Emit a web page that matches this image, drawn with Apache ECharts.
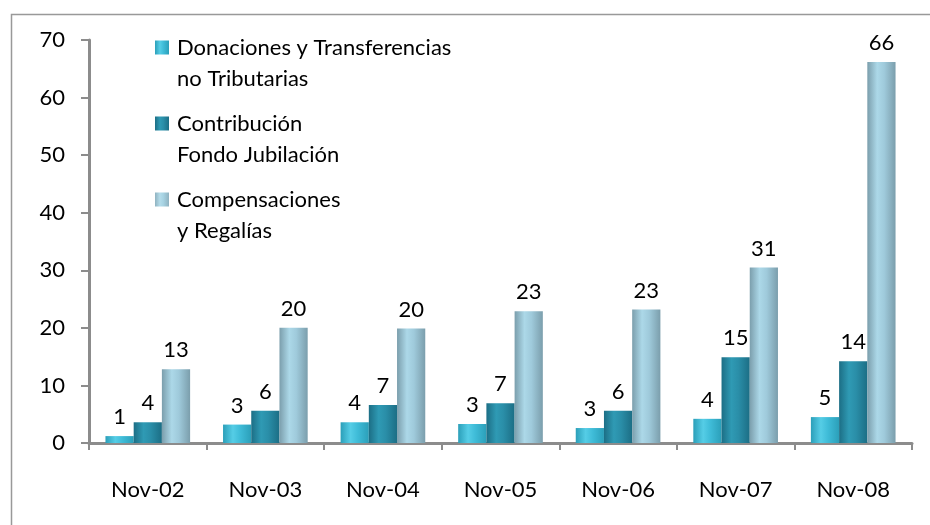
<!DOCTYPE html>
<html>
<head>
<meta charset="utf-8">
<script src="https://cdn.jsdelivr.net/npm/echarts@6/dist/echarts.min.js"></script>
<style>
html,body{margin:0;padding:0;background:#fff;}
#c{width:930px;height:525px;}
</style>
</head>
<body>
<div id="c"></div>
<script>
const categories = ['Nov-02','Nov-03','Nov-04','Nov-05','Nov-06','Nov-07','Nov-08'];
const donaciones = [1.2, 3.2, 3.6, 3.3, 2.6, 4.2, 4.5];
const contribucion = [3.6, 5.6, 6.6, 6.9, 5.6, 14.9, 14.2];
const compensaciones = [12.8, 20.0, 19.9, 22.9, 23.2, 30.5, 66.2];
const seriesNames = ['Donaciones y Transferencias\nno Tributarias', 'Contribución\nFondo Jubilación', 'Compensaciones\ny Regalías'];
const yTicks = {min: 0, max: 70, interval: 10};

const FONT = 'Lato';
function grad(edge, mid, light){
  return new echarts.graphic.LinearGradient(0,0,1,0,[
    {offset:0, color: edge},
    {offset:0.35, color: light},
    {offset:0.6, color: mid},
    {offset:1, color: edge}
  ]);
}
const colors = [
  grad('#2b9fb9', '#3fbcd8', '#55cde6'),
  grad('#1c6e85', '#2a8ea8', '#2f9ab4'),
  grad('#7b9eac', '#9fcadb', '#acd8e8')
];
const legendColors = [
  grad('#2b9fb9', '#3fbcd8', '#55cde6'),
  grad('#1c6e85', '#2a8ea8', '#2f9ab4'),
  grad('#8fb2c0', '#a6d2e2', '#b4dcea')
];
const legendIcon = 'path://M0,0L14,0L14,14L0,14Z M0,45L0.001,45L0.001,45.001Z';

function mkSeries(i, data){
  return {
    name: seriesNames[i],
    type: 'bar',
    data: data,
    barGap: '0%',
    barCategoryGap: '28%',
    itemStyle: {color: colors[i]},
    label: {
      show: true, position: 'top', distance: 8,
      fontFamily: FONT, fontSize: 22, color: '#000',
      formatter: p => String(Math.round(p.value))
    }
  };
}

const chart = echarts.init(document.getElementById('c'), null, {renderer:'canvas'});
chart.setOption({
  animation: false,
  graphic: [{
    type: 'rect', left: 9, top: 12, silent: true,
    shape: {x: 0, y: 0, width: 940, height: 540},
    style: {fill: 'none', stroke: '#999999', lineWidth: 1.5}
  }],
  grid: {left: 89, right: 18, top: 40, bottom: 82, containLabel: false},
  legend: {
    orient: 'vertical', left: 150, top: 27,
    itemWidth: 14, itemHeight: 45, itemGap: 14,
    icon: legendIcon,
    textStyle: {fontFamily: FONT, fontSize: 22, color: '#000', lineHeight: 31, padding: [0,0,0,3]},
    data: seriesNames.map((n,i)=>({name:n, itemStyle:{color: legendColors[i], borderWidth: 0}}))
  },
  xAxis: {
    type: 'category', data: categories,
    axisLine: {lineStyle: {color: '#8c8c8c', width: 3}},
    axisTick: {show: true, length: 7, lineStyle: {color: '#8c8c8c', width: 2}},
    axisLabel: {fontFamily: FONT, fontSize: 22, color: '#000', margin: 36}
  },
  yAxis: {
    type: 'value', min: yTicks.min, max: yTicks.max, interval: yTicks.interval,
    splitLine: {show: false},
    axisLine: {show: true, lineStyle: {color: '#8c8c8c', width: 3}},
    axisTick: {show: true, length: 8, lineStyle: {color: '#8c8c8c', width: 2}},
    axisLabel: {fontFamily: FONT, fontSize: 22, color: '#000', margin: 24}
  },
  series: [mkSeries(0, donaciones), mkSeries(1, contribucion), mkSeries(2, compensaciones)]
});
</script>
</body>
</html>
